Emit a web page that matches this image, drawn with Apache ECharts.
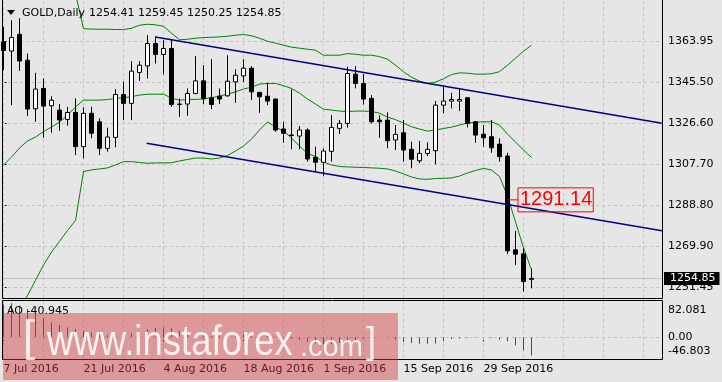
<!DOCTYPE html>
<html><head><meta charset="utf-8">
<script src="https://cdn.jsdelivr.net/npm/echarts@6/dist/echarts.min.js"></script>
<style>html,body{margin:0;padding:0;background:#e6e6e6;}#c{width:722px;height:382px;}</style>
</head><body><div id="c"></div>
<script>
// ---------- data ----------
const dates = ['7 Jul 2016','8 Jul 2016','11 Jul 2016','12 Jul 2016','13 Jul 2016','14 Jul 2016','15 Jul 2016','18 Jul 2016','19 Jul 2016','20 Jul 2016',
'21 Jul 2016','22 Jul 2016','25 Jul 2016','26 Jul 2016','27 Jul 2016','28 Jul 2016','29 Jul 2016','1 Aug 2016','2 Aug 2016','3 Aug 2016',
'4 Aug 2016','5 Aug 2016','8 Aug 2016','9 Aug 2016','10 Aug 2016','11 Aug 2016','12 Aug 2016','15 Aug 2016','16 Aug 2016','17 Aug 2016',
'18 Aug 2016','19 Aug 2016','22 Aug 2016','23 Aug 2016','24 Aug 2016','25 Aug 2016','26 Aug 2016','29 Aug 2016','30 Aug 2016','31 Aug 2016',
'1 Sep 2016','2 Sep 2016','5 Sep 2016','6 Sep 2016','7 Sep 2016','8 Sep 2016','9 Sep 2016','12 Sep 2016','13 Sep 2016','14 Sep 2016',
'15 Sep 2016','16 Sep 2016','19 Sep 2016','20 Sep 2016','21 Sep 2016','22 Sep 2016','23 Sep 2016','26 Sep 2016','27 Sep 2016','28 Sep 2016',
'29 Sep 2016','30 Sep 2016','3 Oct 2016','4 Oct 2016','5 Oct 2016','6 Oct 2016','7 Oct 2016'];

const openP = [1364.1,1359.9,1367.6,1355.65,1333.2,1342.6,1334.6,1332.6,1328.3,1331.55,
1315.7,1331.1,1327.2,1314.95,1320.0,1339.8,1335.7,1350.0,1353.0,1363.35,
1358.3,1361.05,1335.4,1335.4,1340.3,1346.1,1338.3,1339.05,1339.2,1345.65,
1348.4,1351.95,1340.75,1339.05,1337.7,1323.85,1321.1,1320.6,1323.4,1310.8,
1308.5,1313.55,1324.15,1326.45,1349.2,1344.9,1338.0,1328.0,1328.0,1318.8,
1322.1,1314.5,1309.2,1312.6,1313.85,1334.9,1336.75,1336.75,1338.3,1327.2,
1321.5,1320.3,1316.9,1311.4,1268.05,1266.2,1254.41];
const closeP = [1360.1,1366.1,1355.3,1333.1,1342.3,1334.45,1337.2,1328.0,1331.5,1315.7,
1331.1,1321.9,1314.95,1320.15,1339.8,1335.7,1350.6,1353.35,1363.35,1358.3,
1361.05,1335.2,1335.2,1340.3,1346.1,1338.0,1335.2,1337.7,1345.95,1348.7,
1351.95,1341.05,1338.75,1336.75,1323.4,1321.9,1320.9,1323.4,1310.0,1308.5,
1313.7,1324.6,1326.45,1349.5,1344.9,1337.7,1327.2,1327.2,1318.45,1321.4,
1314.15,1309.9,1312.6,1314.5,1334.9,1336.75,1337.5,1337.5,1326.45,1321.05,
1319.8,1315.2,1311.1,1267.6,1266.05,1253.4,1254.85];
const highP = [1371.0,1374.1,1375.0,1358.7,1349.8,1347.2,1339.05,1335.4,1334.1,1338.0,
1333.9,1334.1,1328.8,1324.5,1342.3,1345.65,1355.2,1355.2,1367.2,1366.7,
1364.9,1364.9,1338.0,1342.6,1357.5,1353.35,1356.1,1342.6,1357.95,1351.4,
1356.1,1352.9,1341.05,1345.2,1338.0,1327.2,1342.15,1325.2,1324.15,1315.7,
1314.95,1330.3,1328.0,1352.6,1352.9,1349.2,1339.5,1330.3,1331.55,1325.7,
1328.0,1318.0,1318.3,1317.7,1336.75,1344.1,1340.6,1342.15,1338.6,1327.5,
1325.7,1328.0,1319.55,1312.9,1276.8,1268.8,1259.45];
const lowP = [1351.0,1334.9,1350.7,1329.8,1327.2,1319.8,1322.1,1323.05,1325.4,1311.85,
1310.3,1319.6,1311.85,1313.4,1315.4,1328.0,1328.0,1346.1,1347.2,1354.1,
1349.1,1334.1,1329.5,1330.0,1339.85,1335.4,1333.05,1335.4,1338.75,1335.95,
1345.65,1337.2,1331.35,1334.9,1322.6,1317.5,1314.5,1314.5,1308.8,1304.15,
1302.2,1308.8,1321.5,1324.45,1342.6,1335.2,1326.45,1319.8,1314.95,1314.15,
1308.8,1305.7,1308.05,1311.4,1307.55,1331.1,1333.4,1332.15,1324.6,1317.5,
1315.7,1312.9,1308.8,1266.2,1261.1,1248.8,1250.25];

const bbUpper = [null,null,null,null,null,null,null,null,null,1386.4,
1370.2,1370.0,1369.95,1369.95,1369.8,1369.8,1370.4,1371.8,1372.25,1372.0,
1371.3,1368.1,1365.1,1365.3,1365.8,1366.1,1366.25,1366.4,1366.7,1367.2,
1367.5,1366.95,1365.8,1364.4,1363.5,1362.6,1361.65,1361.2,1360.7,1360.3,
1357.95,1357.95,1357.95,1358.7,1358.4,1357.95,1357.95,1357.3,1356.1,1353.35,
1350.35,1347.8,1346.0,1344.9,1345.5,1347.1,1349.0,1349.8,1349.65,1349.2,
1349.2,1349.4,1350.35,1353.35,1356.55,1359.8,1362.6];
const bbMiddle = [1307.25,1310.9,1315.1,1318.3,1320.15,1322.7,1324.75,1327.05,1330.3,1334.0,
1337.2,1337.2,1337.2,1337.45,1338.0,1338.35,1338.8,1339.5,1339.95,1339.95,
1339.95,1338.1,1337.2,1337.45,1337.55,1337.7,1338.35,1339.05,1339.95,1341.05,
1342.3,1343.2,1344.6,1344.9,1344.9,1343.9,1342.6,1340.45,1337.7,1335.4,
1333.05,1332.6,1332.15,1331.9,1332.15,1332.15,1331.9,1331.2,1329.35,1328.2,
1326.6,1324.9,1323.85,1322.9,1323.4,1324.1,1324.75,1325.7,1326.6,1327.05,
1327.2,1327.2,1325.7,1321.5,1317.85,1314.15,1310.7];
const bbLower = [1232.0,1236.0,1241.0,1247.0,1254.0,1261.0,1267.0,1272.0,1277.0,1281.6,
1304.2,1305.0,1305.4,1305.9,1307.25,1308.8,1308.8,1308.4,1308.05,1308.2,
1308.2,1308.3,1309.1,1309.8,1310.45,1310.45,1310.0,1310.45,1311.6,1313.7,
1316.0,1319.2,1323.4,1327.2,1324.75,1322.9,1319.7,1316.0,1312.55,1311.2,
1308.6,1307.25,1306.55,1306.35,1306.2,1306.1,1305.9,1305.75,1305.4,1304.5,
1303.1,1301.7,1300.8,1300.65,1301.0,1301.1,1301.25,1302.15,1303.55,1304.7,
1305.7,1304.9,1301.9,1292.95,1280.95,1268.95,1258.8];

const aoValues = [74,77,72,64,55,44,34,28,23,18.5,
15,11,8.5,5.5,4,5.5,9,12,18,21,
22.5,21,15,11,7.5,4.5,3,2.5,3,4,
5.5,5,4,3,1,-1,-3,-6,-10.5,-13.5,
-15,-15.5,-13,-10.5,-7.5,-3,-1,0.3,-0.5,-5.3,
-10.5,-12.8,-14.3,-14.6,-14,-9,-3.8,-2.5,-1.5,-0.8,
-0.3,-1.5,-5.3,-9,-18,-29.4,-40.945];

const trendUpper = [[18.97,1366.36],[82.31,1326.5]];
const trendLower = [[17.9,1317.26],[82.31,1276.89]];
const markPrice = 1291.14;
const markSpan = [63.03, 64.31];
const lastPrice = 1254.85;

const priceTicks = [1251.0,1269.9,1288.8,1307.7,1326.6,1345.5,1364.4];
const priceTickLabels = ['1251.45','1269.90','1288.80','1307.70','1326.60','1345.50','1363.95'];
const aoTicks = [-46.803,0,82.081];
const aoTickLabels = ['-46.803','0.00','82.081'];
const gridBars = [0,5,10,15,20,25,30,35,40,45,50,55,60,65,70,75,80];
const labelBars = [0,10,20,30,40,50,60];

const headerSymbol = 'GOLD,Daily';
const headerOHLC = '1254.41 1259.45 1250.25 1254.85';
const aoTitle = 'AO -40.945';

// ---------- chart ----------
const FONT = 'DejaVu Sans';
const chart = echarts.init(document.getElementById('c'), null, {width:722, height:382});
const candleData = dates.map((d,i)=>[i, openP[i], closeP[i], lowP[i], highP[i]]);
const toLine = arr => arr.map((v,i)=> v==null ? null : [i,v]).filter(Boolean);
const lookup = (vals, labels) => v => { for (let i=0;i<vals.length;i++) if (Math.abs(vals[i]-v)<1e-6) return labels[i]; return ''; };
const gridLine = {color:'#c3c3c3', type:[3,3], width:1};
const wmFill = 'rgba(255,255,255,0.85)';

const option = {
  animation:false,
  backgroundColor:'#e6e6e6',
  grid:[{left:2, top:0, width:660, height:298},{left:2, top:301, width:660, height:57}],
  xAxis:[
    {gridIndex:0, type:'value', min:-0.1875, max:82.3125, show:false},
    {gridIndex:1, type:'value', min:-0.1875, max:82.3125, position:'bottom',
     axisLine:{show:false}, splitLine:{show:false},
     axisTick:{show:true, length:4, lineStyle:{color:'#000'}, customValues:labelBars},
     axisLabel:{customValues:labelBars, formatter:v=>dates[Math.round(v)]||'', align:'left', margin:6, color:'#000', fontSize:11, fontFamily:FONT}}
  ],
  yAxis:[
    {gridIndex:0, type:'value', position:'right', min:1245.81, max:1383.45, scale:true,
     axisLine:{show:false}, splitLine:{show:false},
     axisTick:{show:true, length:3, lineStyle:{color:'#000'}, customValues:priceTicks},
     axisLabel:{customValues:priceTicks, formatter:lookup(priceTicks, priceTickLabels), color:'#000', fontSize:11, fontFamily:FONT, margin:6}},
    {gridIndex:1, type:'value', position:'right', min:-46.803, max:82.081,
     axisLine:{show:false}, splitLine:{show:false},
     axisTick:{show:false},
     axisLabel:{customValues:aoTicks, color:'#000', fontSize:11, fontFamily:FONT, margin:6,
       formatter:v=>{const t=lookup(aoTicks,aoTickLabels)(v); if(v>1) return '{t|'+t+'}'; if(v<-1) return '{b|'+t+'}'; return '{m|'+t+'}';},
       rich:{t:{padding:[18,0,0,0],fontSize:11,fontFamily:FONT,color:'#000'},b:{padding:[0,0,14,0],fontSize:11,fontFamily:FONT,color:'#000'},m:{fontSize:11,fontFamily:FONT,color:'#000'}}}}
  ],
  series:[
    {type:'line', xAxisIndex:0, yAxisIndex:0, data:[], silent:true, z:1,
     markLine:{silent:true, z:1, symbol:['none','none'], label:{show:false}, lineStyle:gridLine,
       emphasis:{disabled:true},
       data: gridBars.map(v=>({xAxis:v})).concat(priceTicks.map(v=>({yAxis:v})))}},
    {type:'line', xAxisIndex:1, yAxisIndex:1, data:[], silent:true, z:1,
     markLine:{silent:true, z:1, symbol:['none','none'], label:{show:false}, lineStyle:gridLine,
       emphasis:{disabled:true},
       data: gridBars.map(v=>({xAxis:v})).concat([{yAxis:0}])}},
    {name:'bbUpper', type:'line', xAxisIndex:0, yAxisIndex:0, data:toLine(bbUpper), showSymbol:false, symbol:'none', silent:true, z:3,
     lineStyle:{color:'#008000', width:1}},
    {name:'bbMiddle', type:'line', xAxisIndex:0, yAxisIndex:0, data:toLine(bbMiddle), showSymbol:false, symbol:'none', silent:true, z:3,
     lineStyle:{color:'#008000', width:1}},
    {name:'bbLower', type:'line', xAxisIndex:0, yAxisIndex:0, data:toLine(bbLower), showSymbol:false, symbol:'none', silent:true, z:3,
     lineStyle:{color:'#008000', width:1}},
    {name:'GOLD', type:'candlestick', xAxisIndex:0, yAxisIndex:0, data:candleData, barWidth:4, z:4,
     itemStyle:{color:'#ffffff', color0:'#000000', borderColor:'#000000', borderColor0:'#000000', borderWidth:1},
     markLine:{silent:true, z:2, symbol:['none','none'],
       data:[{yAxis:lastPrice, lineStyle:{color:'#c0c0c0', type:'solid', width:1},
         label:{show:true, position:'end', formatter:String(lastPrice), color:'#fff', backgroundColor:'#000', fontSize:11, fontFamily:FONT, padding:[1,4,0,6], distance:2, lineHeight:12}}]}},
    {name:'trendUpper', type:'line', xAxisIndex:0, yAxisIndex:0, data:trendUpper, symbol:'none', silent:true, z:5,
     lineStyle:{color:'#000080', width:1.5}},
    {name:'trendLower', type:'line', xAxisIndex:0, yAxisIndex:0, data:trendLower, symbol:'none', silent:true, z:5,
     lineStyle:{color:'#000080', width:1.5}},
    {name:'mark', type:'line', xAxisIndex:0, yAxisIndex:0, data:markSpan.map(x=>[x,markPrice]), symbol:'none', silent:true, z:6,
     lineStyle:{color:'#ff0000', width:1},
     endLabel:{show:true, formatter:markPrice.toFixed(2), color:'#ff0000', fontSize:20, fontFamily:'Liberation Sans',
       borderColor:'#ff0000', borderWidth:1, padding:[2,1,2,2], lineHeight:20, distance:0}},
    {name:'AO', type:'bar', xAxisIndex:1, yAxisIndex:1, data:aoValues.map((v,i)=>[i,v]), barWidth:1, z:3, silent:true,
     itemStyle:{color:p=>{const i=p.dataIndex; return (i===0 || aoValues[i]>=aoValues[i-1]) ? '#008000' : '#ff0000';}}}
  ],
  graphic:[
    {type:'polyline', z:100, silent:true, shape:{points:[[2.5,-2],[2.5,298.5],[662.5,298.5],[662.5,-2]]}, style:{stroke:'#000', lineWidth:1, fill:null}},
    {type:'rect', z:100, silent:true, shape:{x:2.5, y:300.5, width:660, height:59}, style:{stroke:'#000', lineWidth:1, fill:null}},
    {type:'polygon', z:100, silent:true, shape:{points:[[7,10],[15,10],[11,15]]}, style:{fill:'#000'}},
    {type:'text', z:100, silent:true, x:22, y:13, style:{text:headerSymbol, font:'11px '+FONT, fill:'#000', verticalAlign:'middle'}},
    {type:'text', z:100, silent:true, x:89, y:13, style:{text:headerOHLC, font:'11px '+FONT, fill:'#000', verticalAlign:'middle'}},
    {type:'text', z:100, silent:true, x:7, y:311, style:{text:aoTitle, font:'11px '+FONT, fill:'#000', verticalAlign:'middle'}},
    {type:'rect', z:110, silent:true, shape:{x:3, y:313, width:395, height:67}, style:{fill:'rgba(210,60,60,0.45)'}},
    {type:'text', z:111, silent:true, x:23, y:339, style:{text:'[', font:'44px Liberation Sans', fill:wmFill, verticalAlign:'middle'}},
    {type:'text', z:111, silent:true, x:47, y:343.5, scaleX:0.87, style:{text:'www.instaforex', font:'42px Liberation Sans', fill:wmFill, verticalAlign:'middle'}},
    {type:'text', z:111, silent:true, x:300, y:348, style:{text:'.com', font:'29px Liberation Sans', fill:wmFill, verticalAlign:'middle'}},
    {type:'text', z:111, silent:true, x:366, y:343, style:{text:']', font:'36px Liberation Sans', fill:wmFill, verticalAlign:'middle'}}
  ]
};
chart.setOption(option);
</script>
</body></html>
